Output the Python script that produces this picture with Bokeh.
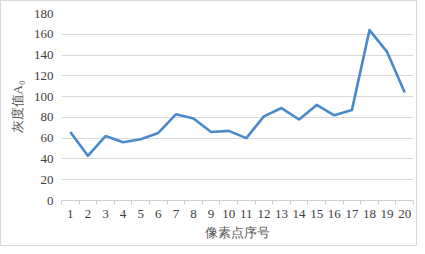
from bokeh.plotting import figure
from bokeh.models import FixedTicker, Range1d
from bokeh.embed import file_html
from bokeh.resources import INLINE

# Data
pixel_index = list(range(1, 21))
tick_labels = [str(i) for i in pixel_index]
gray_values = [66, 43, 62, 56, 59, 65, 83, 79, 66, 67,
               60, 81, 89, 78, 92, 82, 87, 164, 143, 104]
y_ticks = [0, 20, 40, 60, 80, 100, 120, 140, 160, 180]

SERIF = "Liberation Serif"
TXT = "#404040"
TITLE = "#595959"

p = figure(width=417, height=246, output_backend="svg", toolbar_location=None,
           x_range=Range1d(0.5, 20.5), y_range=Range1d(0, 180))
p.min_border_left = 61
p.min_border_right = 4
p.min_border_top = 13
p.min_border_bottom = 46
p.outline_line_color = None
p.background_fill_color = None
p.border_fill_color = None
p.styles = {"background-color": "white",
            "box-shadow": "inset 0 0 0 1px #d9d9d9"}

p.line(pixel_index, gray_values, line_color="#4a89cc", line_width=2.6,
       line_join="round")

# x axis
xa = p.xaxis[0]
xa.ticker = FixedTicker(ticks=pixel_index,
                        minor_ticks=[i + 0.5 for i in range(0, 21)])
xa.major_label_overrides = {i: s for i, s in zip(pixel_index, tick_labels)}
xa.major_tick_line_color = None
xa.major_tick_out = 0
xa.major_tick_in = 0
xa.minor_tick_line_color = "#d0d0d0"
xa.minor_tick_out = 4
xa.minor_tick_in = 0
xa.axis_line_color = "#d0d0d0"
xa.major_label_text_font = SERIF
xa.major_label_text_font_size = "13px"
xa.major_label_text_color = TXT
xa.major_label_standoff = 5
xa.axis_label = "像素点序号"
xa.axis_label_text_font = SERIF
xa.axis_label_text_font_size = "13px"
xa.axis_label_text_font_style = "normal"
xa.axis_label_text_color = TITLE
xa.axis_label_standoff = 4

# y axis
ya = p.yaxis[0]
ya.ticker = FixedTicker(ticks=y_ticks)
ya.axis_line_color = None
ya.major_tick_line_color = None
ya.minor_tick_line_color = None
ya.major_tick_out = 0
ya.major_label_text_font = SERIF
ya.major_label_text_font_size = "13px"
ya.major_label_text_color = TXT
ya.major_label_standoff = 8
ya.axis_label = "灰度值A₀"
ya.axis_label_text_font = SERIF
ya.axis_label_text_font_size = "13px"
ya.axis_label_text_font_style = "normal"
ya.axis_label_text_color = TITLE
ya.axis_label_standoff = 6

p.xgrid.grid_line_color = None
p.ygrid.grid_line_color = "#d9d9d9"
p.ygrid.grid_line_width = 1

open("out.html", "w").write(file_html(p, INLINE))
